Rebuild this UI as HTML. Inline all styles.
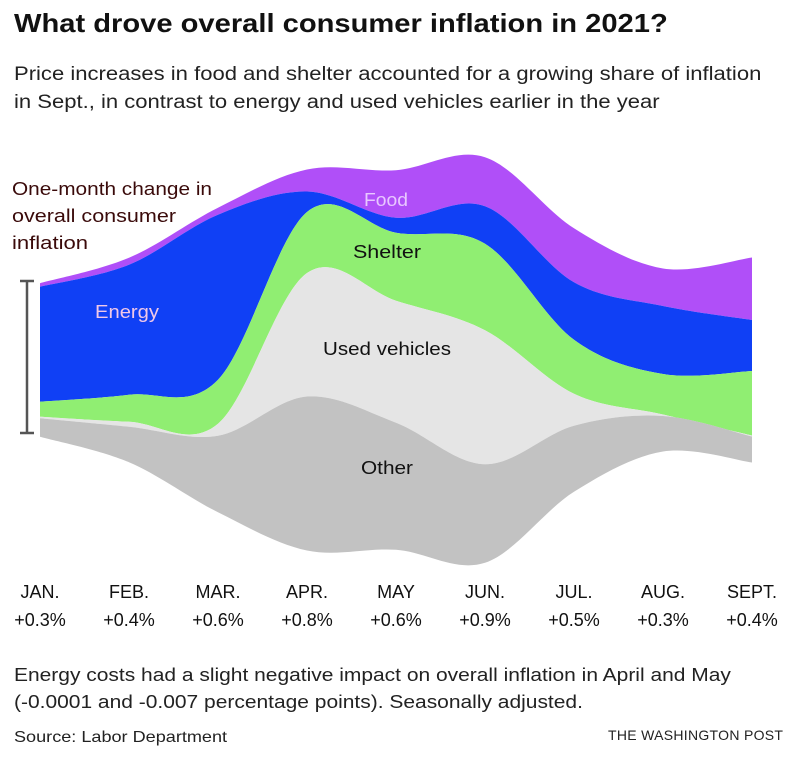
<!DOCTYPE html>
<html><head><meta charset="utf-8"><style>
body{margin:0;background:#fff;font-family:"Liberation Sans",sans-serif;color:#111}
#wrap{position:relative;width:792px;height:764px;overflow:hidden}
.t{position:absolute;white-space:nowrap;transform-origin:0 0}
</style></head><body>
<div id="wrap">
<div class="t" style="left:14px;top:8px;font-size:26px;font-weight:bold;transform:scaleX(1.12)">What drove overall consumer inflation in 2021?</div>
<div class="t" style="left:14px;top:61px;font-size:19px;line-height:28px;color:#222;transform:scaleX(1.16)">Price increases in food and shelter accounted for a growing share of inflation<br>in Sept., in contrast to energy and used vehicles earlier in the year</div>
<svg id="svg" width="792" height="764" style="position:absolute;left:0;top:0"></svg>
<div class="t" style="left:14px;top:662px;font-size:18px;line-height:27px;color:#222;transform:scaleX(1.165)">Energy costs had a slight negative impact on overall inflation in April and May<br>(-0.0001 and -0.007 percentage points). Seasonally adjusted.</div>
<div class="t" style="left:14px;top:729px;font-size:16px;color:#222;transform:scaleX(1.13)">Source: Labor Department</div>
<div class="t" style="left:608px;top:727px;font-size:14px;letter-spacing:0.3px;color:#222">THE WASHINGTON POST</div>
</div>
<script>
const months=["JAN.","FEB.","MAR.","APR.","MAY","JUN.","JUL.","AUG.","SEPT."];
const totals=["+0.3%","+0.4%","+0.6%","+0.8%","+0.6%","+0.9%","+0.5%","+0.3%","+0.4%"];
const food=[0.007,0.014,0.014,0.044,0.095,0.098,0.108,0.075,0.125];
const energy=[0.23,0.26,0.33,0.041,0.03,0.075,0.115,0.136,0.102];
const shelter=[0.03,0.054,0.088,0.122,0.136,0.173,0.108,0.081,0.129];
const usedVehicles=[0.003,0.01,0.024,0.247,0.244,0.268,0.064,0.003,0.002];
const other=[0.037,0.071,0.153,0.308,0.254,0.197,0.132,0.071,0.052];
const layers=[["food",food,"#b04ff8"],["energy",energy,"#1040f5"],["shelter",shelter,"#90ee72"],["used-vehicles",usedVehicles,"#e5e5e5"],["other",other,"#c2c2c2"]];
const svg=document.getElementById('svg');
const NS="http://www.w3.org/2000/svg";
const x0=40,x1=752,center=360,scale=500;
const xs=i=>x0+i*(x1-x0)/(months.length-1);
const n=months.length;
const tot=[];for(let i=0;i<n;i++){let s=0;layers.forEach(l=>s+=l[1][i]);tot.push(s);}
const bounds=[];let acc=new Array(n).fill(0);
bounds.push(acc.map((a,i)=>center-tot[i]*scale/2));
layers.forEach(l=>{acc=acc.map((a,i)=>a+l[1][i]);bounds.push(acc.map((a,i)=>center-tot[i]*scale/2+a*scale));});
function curve(ys,rev){
 let pts=ys.map((y,i)=>[xs(i),y]);if(rev)pts=pts.reverse();
 let d="";
 for(let i=0;i<pts.length-1;i++){
  const p0=pts[Math.max(0,i-1)],p1=pts[i],p2=pts[i+1],p3=pts[Math.min(pts.length-1,i+2)];
  const c1=[p1[0]+(p2[0]-p0[0])/6,p1[1]+(p2[1]-p0[1])/6],c2=[p2[0]-(p3[0]-p1[0])/6,p2[1]-(p3[1]-p1[1])/6];
  d+=` C${c1[0]},${c1[1]} ${c2[0]},${c2[1]} ${p2[0]},${p2[1]}`;
 }
 return {start:pts[0],d};
}
layers.forEach((l,k)=>{
 const a=curve(bounds[k],false),b=curve(bounds[k+1],true);
 const p=document.createElementNS(NS,'path');
 p.setAttribute('d',`M${a.start[0]},${a.start[1]}${a.d} L${b.start[0]},${b.start[1]}${b.d} Z`);
 p.setAttribute('fill',l[2]);
 
 
 svg.appendChild(p);
});
function txt(x,y,s,size,fill,name,anchor,len){
 const t=document.createElementNS(NS,'text');
 t.setAttribute('x',x);t.setAttribute('y',y);t.setAttribute('font-size',size);t.setAttribute('fill',fill);
 t.setAttribute('text-anchor',anchor||'middle');t.setAttribute('font-family','Liberation Sans, sans-serif');
 if(len){t.setAttribute('textLength',len);t.setAttribute('lengthAdjust','spacingAndGlyphs');}
 t.textContent=s;
 
 
 svg.appendChild(t);
}
txt(386,206,"Food",18,"#e8c8ff","food-label","middle",44);
txt(387,258,"Shelter",18,"#111","shelter-label","middle",68);
txt(127,318,"Energy",18,"#f0c8e8","energy-label","middle",64);
txt(387,355,"Used vehicles",18,"#111","used-vehicles-label","middle",128);
txt(387,474,"Other",18,"#111","other-label","middle",52);
txt(12,195,"One-month change in",18,"#3a0a0a","annotation-line1","start",200);
txt(12,222,"overall consumer",18,"#3a0a0a","annotation-line2","start",164);
txt(12,249,"inflation",18,"#3a0a0a","annotation-line3","start",76);
months.forEach((m,i)=>{
 txt(xs(i),598,m,18,"#111","month-label");
 txt(xs(i),626,totals[i],18,"#111","month-total");
});
const br=document.createElementNS(NS,'path');
br.setAttribute('d','M20,281 H34 M27,281 V433 M20,433 H34');
br.setAttribute('stroke','#555');br.setAttribute('stroke-width','2.5');br.setAttribute('fill','none');


svg.appendChild(br);
</script>
</body></html>
